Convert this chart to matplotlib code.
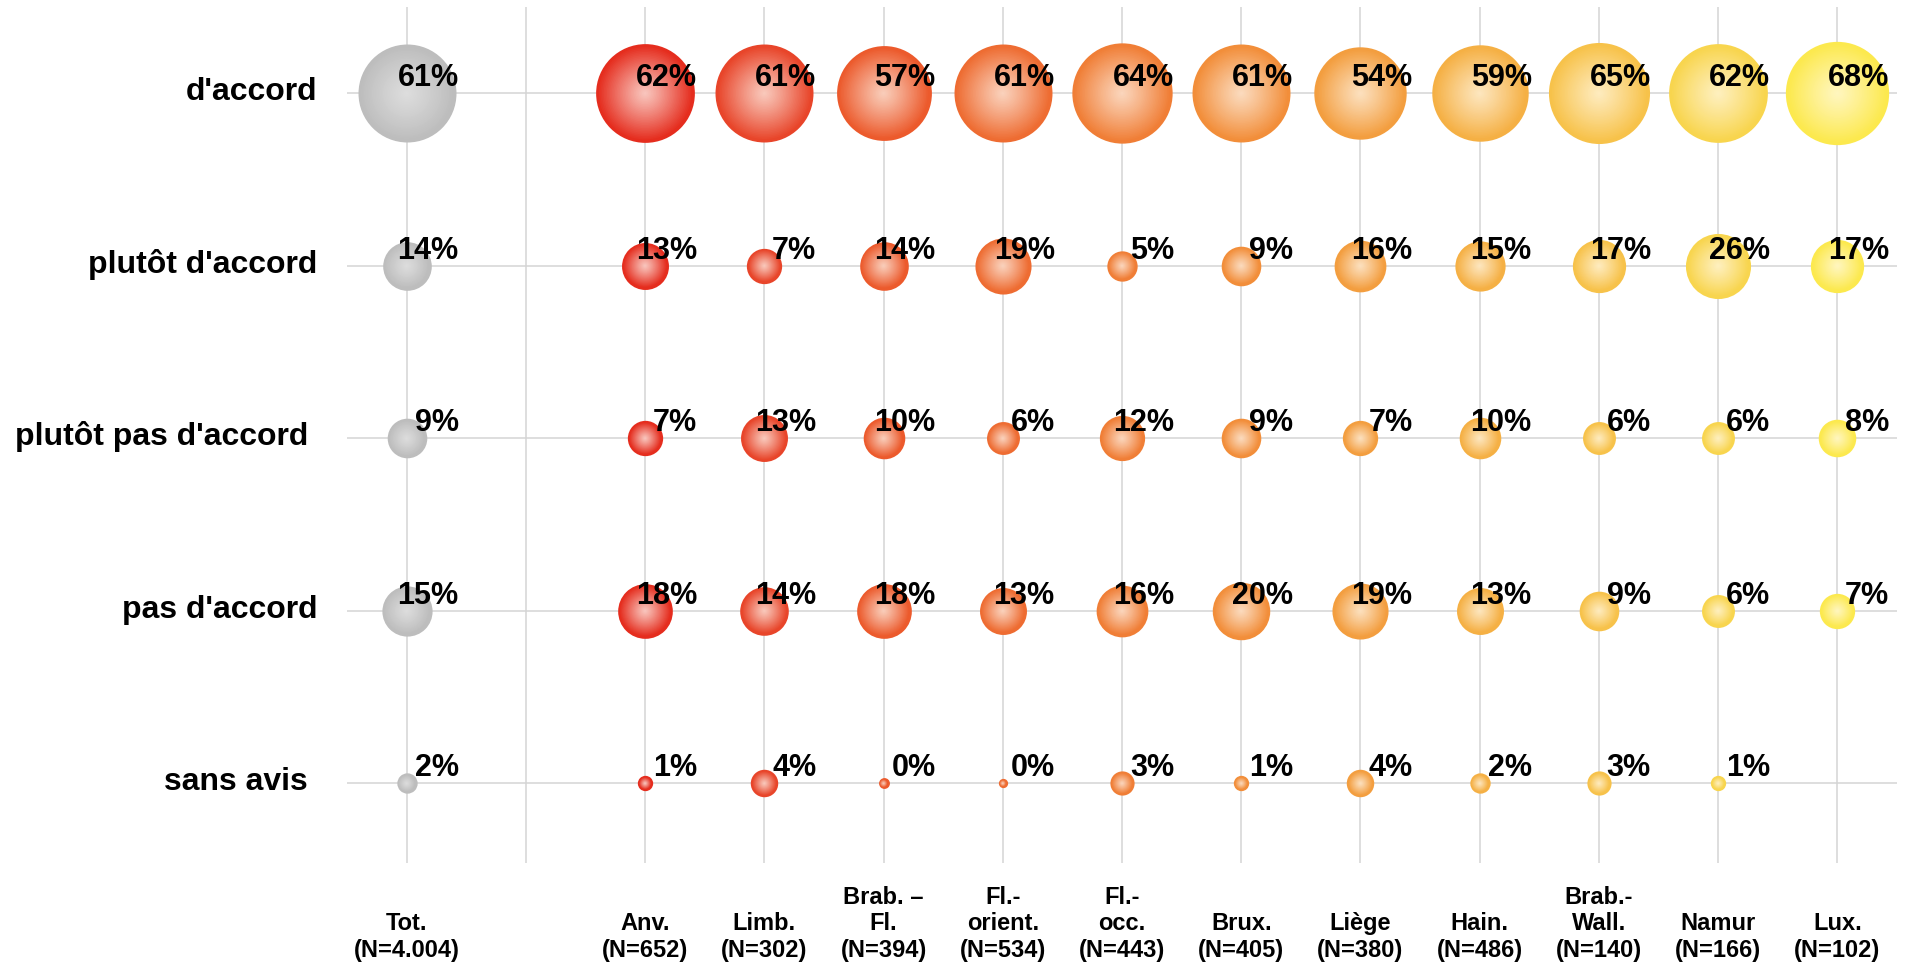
import numpy as np
import matplotlib
matplotlib.use("Agg")
import matplotlib.pyplot as plt
import matplotlib.colors as mcolors
import matplotlib.transforms as mtransforms

plt.rcParams['font.family'] = ['Liberation Sans', 'DejaVu Sans']

# ---- data ----
columns = ["Tot.\n(N=4.004)", "", "Anv.\n(N=652)", "Limb.\n(N=302)", "Brab. –\nFl.\n(N=394)",
           "Fl.-\norient.\n(N=534)", "Fl.-\nocc.\n(N=443)", "Brux.\n(N=405)", "Liège\n(N=380)",
           "Hain.\n(N=486)", "Brab.-\nWall.\n(N=140)", "Namur\n(N=166)", "Lux.\n(N=102)"]
rows = ["d'accord", "plutôt d'accord", "plutôt pas d'accord ", "pas d'accord", "sans avis "]

# values per column (None = empty column / missing)
tot       = [61, 14, 9, 15, 2]
anv       = [62, 13, 7, 18, 1]
limb      = [61, 7, 13, 14, 4]
brab_fl   = [57, 14, 10, 18, 0.4]
fl_orient = [61, 19, 6, 13, 0.25]
fl_occ    = [64, 5, 12, 16, 3]
brux      = [61, 9, 9, 20, 1]
liege     = [54, 16, 7, 19, 4]
hain      = [59, 15, 10, 13, 2]
brab_wall = [65, 17, 6, 9, 3]
namur     = [62, 26, 6, 6, 1]
lux       = [68, 17, 8, 7, None]

series = [tot, None, anv, limb, brab_fl, fl_orient, fl_occ, brux, liege, hain, brab_wall, namur, lux]

# edge / centre colours of each column's bubbles
edge_colors = ["#BDBDBD", None, "#E52D1E", "#E8452A", "#EC5A2C", "#EE6C32", "#F07E36",
               "#F28E3A", "#F39E3F", "#F5B044", "#F7C24A", "#F8D54E", "#FCE94E"]
center_colors = ["#DEDEDE", None, "#F9C8C0", "#F9CBBE", "#F9CFBC", "#FAD3BE", "#FBD7BE",
                 "#FBDCC0", "#FCE1C0", "#FDE7C0", "#FEECC0", "#FEF0C0", "#FFF6C0"]

W, H = 1912, 966
fig = plt.figure(figsize=(W / 100, H / 100), dpi=100)
ax = fig.add_axes([347 / W, 1 - 863 / H, (1897 - 347) / W, (863 - 7) / H])
ax.set_xlim(-0.5, 12.5)
ax.set_ylim(4.462, -0.5)

ax.set_xticks(range(len(columns)))
ax.set_yticks(range(len(rows)))
ax.set_xticklabels([])
ax.set_yticklabels([])
ax.tick_params(length=0)
for sp in ax.spines.values():
    sp.set_visible(False)
ax.grid(True, color="#D4D4D4", linewidth=1.1)
ax.set_axisbelow(True)

SIZE_PER_PCT = 76.4  # points^2 per percent
EDGE_LW = 2.28
n_layers = 30

for ci, vals in enumerate(series):
    if vals is None:
        continue
    ec = np.array(mcolors.to_rgb(edge_colors[ci]))
    cc = np.array(mcolors.to_rgb(center_colors[ci]))
    for ri, v in enumerate(vals):
        if v is None:
            continue
        base = SIZE_PER_PCT * v
        # outer bubble with its border
        ax.scatter([ci], [ri], s=base, color=ec, edgecolors=ec, linewidths=EDGE_LW,
                   zorder=3)
        for k in range(1, n_layers):
            f = 1 - k / n_layers
            t = f ** 1.1
            col = cc * (1 - t) + ec * t
            ax.scatter([ci], [ri], s=base * f * f, color=col, edgecolors="none",
                       zorder=3 + k * 0.001)
        ax.annotate(f"{round(v):.0f}%", xy=(ci, ri), xytext=(37.4, 5),
                    textcoords="offset points", ha="right", va="baseline",
                    fontsize=22, fontweight="bold", color="black", zorder=10)

# row labels
for ri, lab in enumerate(rows):
    ax.annotate(lab, xy=(-0.5, ri), xytext=(-21.6, -5), textcoords="offset points",
                ha="right", va="baseline", fontsize=23, fontweight="bold",
                color="black", annotation_clip=False)

# column labels
trans = mtransforms.blended_transform_factory(ax.transData, fig.transFigure)
for ci, lab in enumerate(columns):
    if not lab:
        continue
    ax.text(ci, 1 - 957 / H, lab, transform=trans, ha="center", va="baseline",
            multialignment="center", fontsize=17, fontweight="bold",
            linespacing=1.2, color="black")

fig.savefig("out.png", dpi=100)
